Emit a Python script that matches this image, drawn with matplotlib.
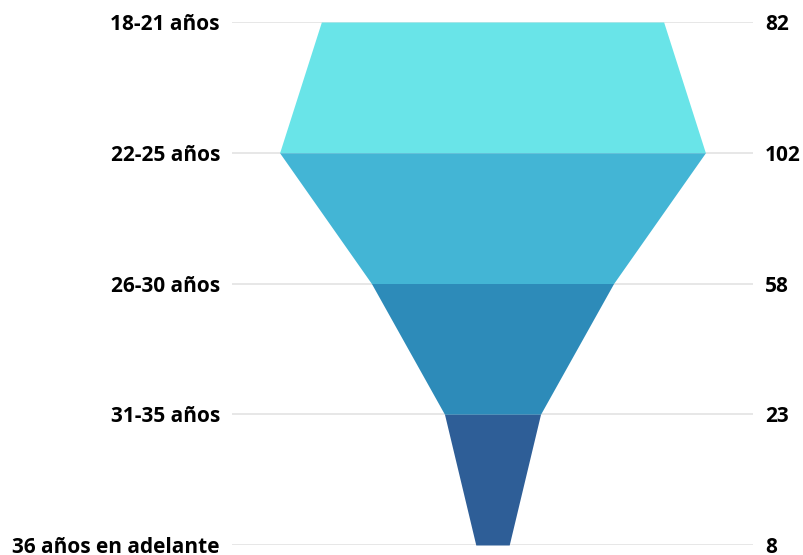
import matplotlib
matplotlib.use("Agg")
import matplotlib.pyplot as plt

# datos del embudo
categorias = ["18-21 años", "22-25 años", "26-30 años", "31-35 años", "36 años en adelante"]
valores = [82, 102, 58, 23, 8]
colores = ["#69e4e8", "#43b5d5", "#2d8bb9", "#2e5e97"]

plt.rcParams['font.family'] = ['Open Sans', 'DejaVu Sans']

fig = plt.figure(figsize=(8.04, 5.55), dpi=100)
ax = fig.add_axes([232 / 804, 10 / 555, 521 / 804, 523 / 555])

n = len(valores)
# lineas de la rejilla
for i in range(n):
    ax.axhline(i, color="#e3e3e3", lw=1.2, zorder=0)

# tramos del embudo
for i in range(n - 1):
    y = [i, i + 1]
    izq = [-valores[i] / 2, -valores[i + 1] / 2]
    der = [valores[i] / 2, valores[i + 1] / 2]
    ax.fill_betweenx(y, izq, der, color=colores[i], lw=0, zorder=2)

ax.set_xlim(-62.4, 62.4)
ax.set_ylim(n - 1, 0)
ax.axis("off")

# etiquetas (la ultima queda algo cortada abajo, como en el original)
for i in range(n):
    ax.annotate(categorias[i], xy=(0, i), xycoords=("axes fraction", "data"),
                xytext=(-12, -8), textcoords="offset pixels", annotation_clip=False,
                ha="right", va="baseline", fontsize=15, fontweight="bold", color="#000000")
    ax.annotate(str(valores[i]), xy=(1, i), xycoords=("axes fraction", "data"),
                xytext=(12, -8), textcoords="offset pixels", annotation_clip=False,
                ha="left", va="baseline", fontsize=15, fontweight="bold", color="#000000")

fig.savefig("out.png", dpi=100)
